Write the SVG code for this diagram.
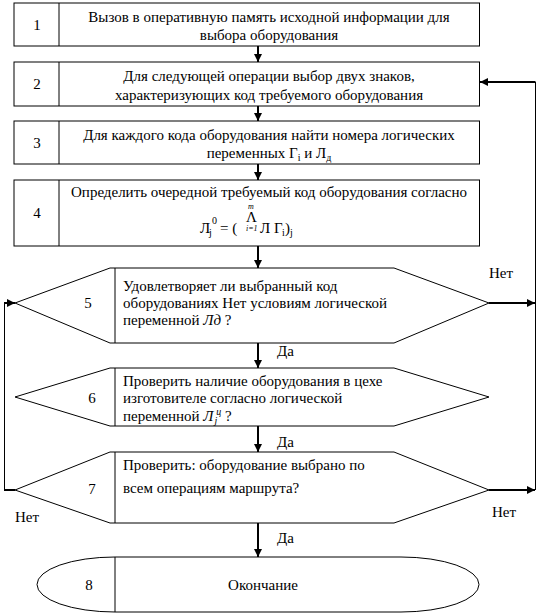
<svg xmlns="http://www.w3.org/2000/svg" width="554" height="615" viewBox="0 0 554 615">
<defs>
<style>
.shape{fill:#fff;stroke:#000;stroke-width:1}
.div{fill:none;stroke:#000;stroke-width:1}
.t{font-family:"Liberation Serif","Times New Roman",serif;font-size:15px;fill:#000}
.c{text-anchor:middle}
.flow{fill:none;stroke:#000;stroke-width:2}
.thin{fill:none;stroke:#000;stroke-width:1}
.it{font-style:italic}
.sm{font-size:10px}
.xs{font-size:8px}
</style>
<marker id="ah" viewBox="0 0 10 10" refX="10" refY="5" markerWidth="4.5" markerHeight="4" orient="auto" markerUnits="strokeWidth">
<path d="M0,0 L10,5 L0,10 z" fill="#000"/>
</marker>
</defs>
<rect width="554" height="615" fill="#fff"/>

<g id="node1">
<rect class="shape" x="14" y="3" width="465.5" height="43"/>
<line class="div" x1="59" y1="3" x2="59" y2="46"/>
<text class="t c" x="37" y="30">1</text>
<text class="t c" x="269" y="22">Вызов в оперативную память исходной информации для</text>
<text class="t c" x="269" y="40">выбора оборудования</text>
</g>

<g id="node2">
<rect class="shape" x="14" y="62" width="465.5" height="44"/>
<line class="div" x1="59" y1="62" x2="59" y2="106"/>
<text class="t c" x="37" y="89">2</text>
<text class="t c" x="269" y="81">Для следующей операции выбор двух знаков,</text>
<text class="t c" x="269" y="100">характеризующих код требуемого оборудования</text>
</g>

<g id="node3">
<rect class="shape" x="14" y="121" width="465.5" height="43"/>
<line class="div" x1="59" y1="121" x2="59" y2="164"/>
<text class="t c" x="37" y="148">3</text>
<text class="t c" x="269" y="140">Для каждого кода оборудования найти номера логических</text>
<text class="t c" x="269" y="158">переменных Г<tspan class="sm" dy="3">i</tspan><tspan dy="-3"> и Л</tspan><tspan class="sm" dy="3">д</tspan></text>
</g>

<g id="node4">
<rect class="shape" x="14" y="180" width="465.5" height="66"/>
<line class="div" x1="59" y1="180" x2="59" y2="246"/>
<text class="t c" x="37" y="218">4</text>
<text class="t c" x="269" y="197">Определить очередной требуемый код оборудования согласно</text>
<text class="t" x="200" y="233">Л</text>
<text class="t sm" x="209" y="236">j</text>
<text class="t sm" x="212" y="224">0</text>
<text class="t" x="220" y="233">= (</text>
<text class="t it xs" x="248" y="209">m</text>
<text class="t" x="246" y="222">Λ</text>
<text class="t it xs" x="246" y="231">i=1</text>
<text class="t" x="260" y="233">Л Г</text>
<text class="t sm" x="282" y="236">i</text>
<text class="t" x="285" y="233">)</text>
<text class="t sm" x="290" y="236">j</text>
</g>

<g id="node5">
<path class="shape" d="M15,303 L110,268 L394,268 L489,303 L394,343 L110,343 Z"/>
<line class="div" x1="115" y1="268" x2="115" y2="343"/>
<text class="t c" x="88" y="308">5</text>
<text class="t" x="123" y="291">Удовлетворяет ли выбранный код</text>
<text class="t" x="123" y="308">оборудованиях Нет условиям логической</text>
<text class="t" x="123" y="325">переменной <tspan class="it">Лд</tspan> ?</text>
</g>

<g id="node6">
<path class="shape" d="M15,397 L110,368 L394,368 L489,397 L394,426 L110,426 Z"/>
<line class="div" x1="115" y1="368" x2="115" y2="426"/>
<text class="t c" x="92" y="403">6</text>
<text class="t" x="123" y="386">Проверить наличие оборудования в цехе</text>
<text class="t" x="123" y="403">изготовителе согласно логической</text>
<text class="t" x="123" y="421">переменной <tspan class="it">Л</tspan><tspan class="it sm" dy="3" dx="1">j</tspan><tspan class="it sm" dy="-9" dx="-1">ц</tspan><tspan dy="6"> ?</tspan></text>
</g>

<g id="node7">
<path class="shape" d="M15,490 L110,452 L394,452 L489,490 L394,523 L110,523 Z"/>
<line class="div" x1="115" y1="452" x2="115" y2="523"/>
<text class="t c" x="92" y="494">7</text>
<text class="t" x="123" y="470">Проверить: оборудование выбрано по</text>
<text class="t" x="123" y="493">всем операциям маршрута?</text>
</g>

<g id="node8">
<path class="shape" d="M115,557 L401,557 A78,27.5 0 0 1 401,612 L115,612 A78,27.5 0 0 1 115,557 Z"/>
<line class="div" x1="115" y1="557" x2="115" y2="612"/>
<text class="t c" x="89" y="590">8</text>
<text class="t c" x="263" y="590">Окончание</text>
</g>

<g id="connectors">
<line class="flow" x1="258" y1="46" x2="258" y2="62" marker-end="url(#ah)"/>
<line class="flow" x1="258" y1="106" x2="258" y2="121" marker-end="url(#ah)"/>
<line class="flow" x1="258" y1="164" x2="258" y2="180" marker-end="url(#ah)"/>
<line class="flow" x1="258" y1="246" x2="258" y2="268" marker-end="url(#ah)"/>
<line class="flow" x1="258" y1="343" x2="258" y2="368" marker-end="url(#ah)"/>
<line class="flow" x1="258" y1="426" x2="258" y2="452" marker-end="url(#ah)"/>
<line class="flow" x1="258" y1="523" x2="258" y2="557" marker-end="url(#ah)"/>
<line class="flow" x1="489" y1="303" x2="535" y2="303" marker-end="url(#ah)"/>
<line class="flow" x1="489" y1="490" x2="535" y2="490" marker-end="url(#ah)"/>
<line class="thin" x1="535.5" y1="82" x2="535.5" y2="490"/>
<line class="flow" x1="535.5" y1="82" x2="480" y2="82" marker-end="url(#ah)"/>
<line class="flow" x1="15" y1="490" x2="4" y2="490"/>
<line class="thin" x1="4.5" y1="490" x2="4.5" y2="303"/>
<line class="flow" x1="4" y1="303" x2="15" y2="303" marker-end="url(#ah)"/>
<text class="t" x="489" y="278">Нет</text>
<text class="t" x="492" y="517">Нет</text>
<text class="t" x="15" y="522">Нет</text>
<text class="t" x="277" y="356">Да</text>
<text class="t" x="277" y="447">Да</text>
<text class="t" x="277" y="543">Да</text>
</g>
</svg>
